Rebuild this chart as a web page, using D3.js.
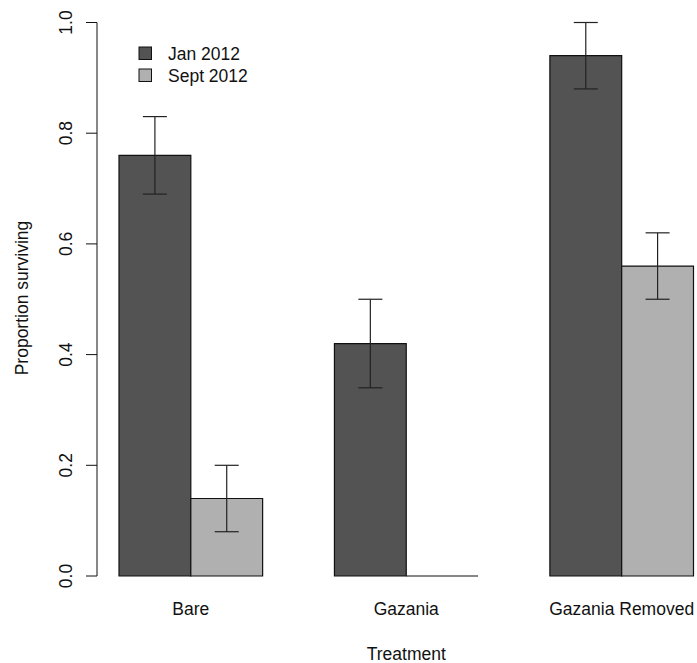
<!DOCTYPE html>
<html>
<head>
<meta charset="utf-8">
<script src="https://cdn.jsdelivr.net/npm/d3@7"></script>
<style>
  body { margin: 0; background: #fff; }
  text { font-family: "Liberation Sans", Arial, sans-serif; fill: #111; }
</style>
</head>
<body>
<div id="chart"></div>
<script>
const treatments = ["Bare", "Gazania", "Gazania Removed"];
const seriesNames = ["Jan 2012", "Sept 2012"];
const janValues = [0.76, 0.42, 0.94];
const septValues = [0.14, 0.0, 0.56];
const janLower = [0.69, 0.34, 0.88];
const janUpper = [0.83, 0.50, 1.00];
const septLower = [0.08, null, 0.50];
const septUpper = [0.20, null, 0.62];
const yTicks = [0, 0.2, 0.4, 0.6, 0.8, 1.0];

const width = 697, height = 663;
const fills = ["#535353", "#b0b0b0"];
const fontSize = "17.5px";

const svg = d3.select("#chart").append("svg")
    .attr("width", width)
    .attr("height", height);

// bar slots as in R barplot(beside=TRUE): width 1, space c(0,1)
const x = d3.scaleLinear().domain([1, 9]).range([119, 693.5]);
const y = d3.scaleLinear().domain([0, 1]).range([576, 22.5]);

const bars = [];
treatments.forEach((t, i) => {
    bars.push({ slot: 1 + 3 * i, v: janValues[i], lo: janLower[i], hi: janUpper[i], s: 0 });
    bars.push({ slot: 2 + 3 * i, v: septValues[i], lo: septLower[i], hi: septUpper[i], s: 1 });
});

// bars as paths so a zero-height bar still shows its outline
svg.append("g").selectAll("path")
    .data(bars)
    .enter().append("path")
    .attr("d", d => {
        const x0 = x(d.slot), x1 = x(d.slot + 1), y0 = y(0), y1 = y(d.v);
        return `M${x0},${y0}L${x0},${y1}L${x1},${y1}L${x1},${y0}Z`;
    })
    .attr("fill", d => d.v > 0 ? fills[d.s] : "none")
    .attr("stroke", "#111")
    .attr("stroke-width", 1.2);

// error bars
const err = svg.append("g")
    .selectAll("g")
    .data(bars.filter(d => d.lo !== null))
    .enter().append("g")
    .attr("stroke", "#222")
    .attr("stroke-width", 1.2);

err.append("line")
    .attr("x1", d => x(d.slot + 0.5)).attr("x2", d => x(d.slot + 0.5))
    .attr("y1", d => y(d.lo)).attr("y2", d => y(d.hi));
err.append("line")
    .attr("x1", d => x(d.slot + 0.5) - 12).attr("x2", d => x(d.slot + 0.5) + 12)
    .attr("y1", d => y(d.hi)).attr("y2", d => y(d.hi));
err.append("line")
    .attr("x1", d => x(d.slot + 0.5) - 12).attr("x2", d => x(d.slot + 0.5) + 12)
    .attr("y1", d => y(d.lo)).attr("y2", d => y(d.lo));

// y axis, R style with rotated labels
const yAxis = svg.append("g").attr("transform", "translate(97,0)");
yAxis.append("line")
    .attr("x1", 0).attr("x2", 0)
    .attr("y1", y(0)).attr("y2", y(1))
    .attr("stroke", "#111");
yAxis.selectAll(".tick")
    .data(yTicks)
    .enter().append("line")
    .attr("x1", -11).attr("x2", 0)
    .attr("y1", d => y(d)).attr("y2", d => y(d))
    .attr("stroke", "#111");
yAxis.selectAll("text")
    .data(yTicks)
    .enter().append("text")
    .attr("transform", d => `translate(-25,${y(d)}) rotate(-90)`)
    .attr("text-anchor", "middle")
    .style("font-size", fontSize)
    .text(d => d3.format(".1f")(d));

// category labels
svg.append("g").selectAll("text")
    .data(treatments)
    .enter().append("text")
    .attr("x", (d, i) => x(2 + 3 * i))
    .attr("y", 615)
    .attr("text-anchor", "middle")
    .style("font-size", fontSize)
    .text(d => d);

// axis titles
svg.append("text")
    .attr("x", x(5))
    .attr("y", 660)
    .attr("text-anchor", "middle")
    .style("font-size", fontSize)
    .text("Treatment");

svg.append("text")
    .attr("transform", `translate(28,298) rotate(-90)`)
    .attr("text-anchor", "middle")
    .style("font-size", fontSize)
    .text("Proportion surviving");

// legend
const legend = svg.append("g").selectAll("g")
    .data(seriesNames)
    .enter().append("g")
    .attr("transform", (d, i) => `translate(139,${47 + i * 22})`);
legend.append("rect")
    .attr("width", 12.5).attr("height", 12.5)
    .attr("fill", (d, i) => fills[i])
    .attr("stroke", "#111");
legend.append("text")
    .attr("x", 29).attr("y", 13)
    .style("font-size", fontSize)
    .text(d => d);
</script>
</body>
</html>
